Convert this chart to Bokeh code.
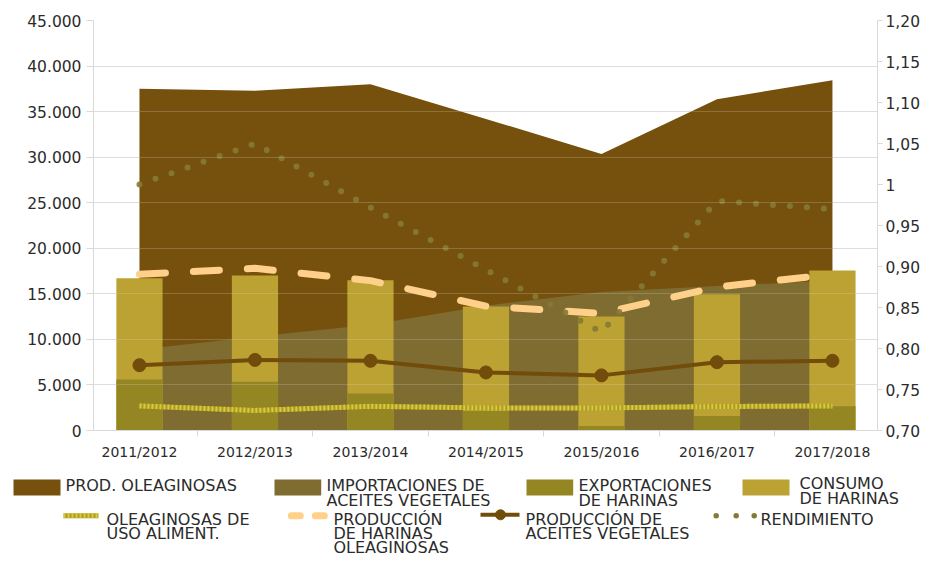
from bokeh.plotting import figure
from bokeh.layouts import column
from bokeh.models import Range1d, LinearAxis, FixedTicker, Grid
from bokeh.core.properties import value
from bokeh.embed import file_html
from bokeh.resources import INLINE

# ---------------- data ----------------
CATEGORIES = ["2011/2012", "2012/2013", "2013/2014", "2014/2015", "2015/2016", "2016/2017", "2017/2018"]
PROD_OLEAGINOSAS = [37500, 37300, 38000, 34200, 30350, 36350, 38450]
IMPORT_ACEITES = [8900, 10300, 11600, 13700, 15200, 15850, 16450]
EXPORT_HARINAS = [5600, 5350, 4050, 2150, 500, 1600, 2650]
CONSUMO_HARINAS = [16700, 17000, 16500, 13600, 12500, 14950, 17550]
USO_ALIMENT = [2700, 2200, 2650, 2480, 2480, 2630, 2700]
PROD_HARINAS = [17150, 17800, 16450, 13650, 12850, 15750, 17150]
PROD_ACEITES = [7170, 7750, 7650, 6370, 6050, 7500, 7650]
RENDIMIENTO = [1.00, 1.05, 0.972, 0.896, 0.82, 0.98, 0.97]

LEFT_TICKS = [0, 5000, 10000, 15000, 20000, 25000, 30000, 35000, 40000, 45000]
LEFT_LABELS = ["0", "5.000", "10.000", "15.000", "20.000", "25.000", "30.000", "35.000", "40.000", "45.000"]
RIGHT_TICKS = [0.70, 0.75, 0.80, 0.85, 0.90, 0.95, 1.00, 1.05, 1.10, 1.15, 1.20]
RIGHT_LABELS = ["0,70", "0,75", "0,80", "0,85", "0,90", "0,95", "1", "1,05", "1,10", "1,15", "1,20"]

LEGEND_LABELS = ["PROD. OLEAGINOSAS", "IMPORTACIONES DE\nACEITES VEGETALES", "EXPORTACIONES\nDE HARINAS",
                 "CONSUMO\nDE HARINAS", "OLEAGINOSAS DE\nUSO ALIMENT.", "PRODUCCIÓN\nDE HARINAS\nOLEAGINOSAS",
                 "PRODUCCIÓN DE\nACEITES VEGETALES", "RENDIMIENTO"]

FONT = "DejaVu Sans"
TEXT_COLOR = "#2b2b2b"
xs = list(range(len(CATEGORIES)))

C_PROD = "#76510E"
C_IMP = "#7E6C30"
C_CONS = "#BBA233"
C_EXP = "#958624"
C_USO_A = "#A99B2A"
C_USO_B = "#DACB36"
C_HARIN = "#FFD08A"
C_ACE = "#724C0B"
C_REND = "#857A35"

# ---------------- main chart ----------------
p = figure(width=923, height=462, output_backend="svg", toolbar_location=None,
           x_range=Range1d(-0.398, 6.39), y_range=Range1d(0, 45000),
           min_border_left=93, min_border_right=46, min_border_top=20, min_border_bottom=25)
p.frame_align = False
p.extra_y_ranges = {"r": Range1d(0.70, 1.20)}
p.outline_line_color = None

p.varea(x=xs, y1=0, y2=PROD_OLEAGINOSAS, fill_color=C_PROD)
p.varea(x=xs, y1=0, y2=IMPORT_ACEITES, fill_color=C_IMP)
p.vbar(x=xs, top=CONSUMO_HARINAS, width=0.4, fill_color=C_CONS, line_color=None)
p.vbar(x=xs, top=EXPORT_HARINAS, width=0.4, fill_color=C_EXP, line_color=None)
p.line(x=xs, y=USO_ALIMENT, line_color=C_USO_A, line_width=5)
p.line(x=xs, y=USO_ALIMENT, line_color=C_USO_B, line_width=5, line_dash="2 2")
p.line(x=xs, y=PROD_HARINAS, line_color=C_HARIN, line_width=7, line_dash="26 28", line_cap="round")
p.line(x=xs, y=PROD_ACEITES, line_color=C_ACE, line_width=4)
p.scatter(x=xs, y=PROD_ACEITES, size=13, fill_color=C_ACE, line_color=C_ACE)
p.line(x=xs, y=RENDIMIENTO, y_range_name="r", line_color=C_REND, line_alpha=0.9,
       line_width=6, line_dash="0 17", line_cap="round")

# axes
p.xaxis.ticker = FixedTicker(ticks=xs, minor_ticks=[i + 0.5 for i in xs[:-1]])
p.xaxis.major_label_overrides = {i: c for i, c in zip(xs, CATEGORIES)}
p.xaxis.major_tick_line_color = None
p.xaxis.major_tick_out = 0
p.xaxis.major_tick_in = 0
p.xaxis.minor_tick_line_color = "#d9d9d9"
p.xaxis.minor_tick_out = 6
p.xaxis.minor_tick_in = 0
p.xaxis.axis_line_color = "#d9d9d9"
p.xaxis.major_label_standoff = 7
p.xaxis.major_label_text_font = FONT
p.xaxis.major_label_text_font_size = "14px"
p.xaxis.major_label_text_color = TEXT_COLOR

p.yaxis.ticker = FixedTicker(ticks=LEFT_TICKS)
p.yaxis.major_label_overrides = {t: l for t, l in zip(LEFT_TICKS, LEFT_LABELS)}
p.yaxis.minor_tick_line_color = None
p.yaxis.major_tick_out = 7
p.yaxis.major_tick_in = 0
p.yaxis.major_tick_line_color = "#d9d9d9"
p.yaxis.axis_line_color = "#d9d9d9"
p.yaxis.major_label_standoff = 5
p.yaxis.major_label_text_font = FONT
p.yaxis.major_label_text_font_size = "15.5px"
p.yaxis.major_label_text_color = TEXT_COLOR

raxis = LinearAxis(y_range_name="r", ticker=FixedTicker(ticks=RIGHT_TICKS),
                   major_label_overrides={t: l for t, l in zip(RIGHT_TICKS, RIGHT_LABELS)})
raxis.minor_tick_line_color = None
raxis.major_tick_out = 5
raxis.major_tick_in = 0
raxis.major_tick_line_color = "#d9d9d9"
raxis.axis_line_color = "#d9d9d9"
raxis.major_label_standoff = 3
raxis.major_label_text_font = FONT
raxis.major_label_text_font_size = "15.5px"
raxis.major_label_text_color = TEXT_COLOR
p.add_layout(raxis, "right")

p.xgrid.visible = False
p.ygrid.ticker = FixedTicker(ticks=LEFT_TICKS)
p.ygrid.grid_line_color = "#dddddd"
p.add_layout(Grid(dimension=1, ticker=FixedTicker(ticks=LEFT_TICKS), grid_line_color="#dddddd",
                  grid_line_alpha=0.22, level="overlay"))

# ---------------- legend panel (pixel coordinates, y downward) ----------------
LH = 95
q = figure(width=923, height=LH, output_backend="svg", toolbar_location=None,
           x_range=Range1d(0, 923), y_range=Range1d(LH, 0),
           min_border_left=0, min_border_right=0, min_border_top=0, min_border_bottom=0)
q.frame_align = False
q.axis.visible = False
q.grid.visible = False
q.outline_line_color = None

R1 = 17   # row 1 top
R2 = 51   # row 2 text cap top
G2 = R2 + 2.3  # row 2 glyph centre

# row 1 swatches
q.quad(left=[13, 274, 526, 742], right=[60, 320.7, 572.7, 789], top=R1, bottom=R1 + 16,
       fill_color=[C_PROD, C_IMP, C_EXP, C_CONS], line_color=None)
# row 2 samples
q.line(x=[63, 98], y=[G2, G2], line_color=C_USO_A, line_width=5)
q.line(x=[63, 98], y=[G2, G2], line_color=C_USO_B, line_width=5, line_dash="2 2")
q.line(x=[290.8, 323.8], y=[G2, G2], line_color=C_HARIN, line_width=7, line_dash="9 15", line_cap="round")
q.line(x=[480, 519], y=[G2 - 1, G2 - 1], line_color=C_ACE, line_width=4)
q.scatter(x=[500], y=[G2 - 1], size=10, fill_color=C_ACE, line_color=C_ACE)
q.scatter(x=[715.7, 735.7, 753.7], y=[G2, G2, G2], size=5.5, fill_color=C_REND, line_color=None)

q.text(x=[65, 326, 578], y=[R1 - 4] * 3, text=LEGEND_LABELS[0:3],
       text_font=value(FONT), text_font_size=value("16px"), text_color=TEXT_COLOR,
       text_baseline="top", text_align="left", text_line_height=0.8)
q.text(x=[799], y=[R1 - 5.3], text=LEGEND_LABELS[3:4],
       text_font=value(FONT), text_font_size=value("16px"), text_color=TEXT_COLOR,
       text_baseline="top", text_align="left", text_line_height=0.8)
q.text(x=[106, 333, 525, 760], y=[R2 - 4] * 4, text=LEGEND_LABELS[4:8],
       text_font=value(FONT), text_font_size=value("16px"), text_color=TEXT_COLOR,
       text_baseline="top", text_align="left", text_line_height=0.74)

layout = column(p, q, spacing=0)
open("out.html", "w").write(file_html(layout, INLINE))
